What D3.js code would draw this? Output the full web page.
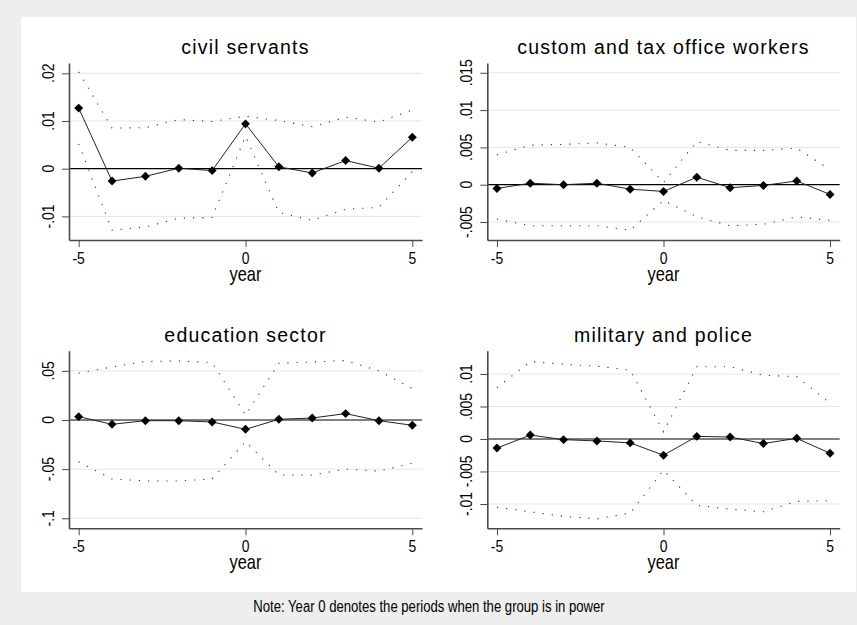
<!DOCTYPE html>
<html>
<head>
<meta charset="utf-8">
<script src="https://cdn.jsdelivr.net/npm/d3@7/dist/d3.min.js"></script>
<style>
  html, body { margin: 0; padding: 0; background: #eeeeee; }
  svg { display: block; }
</style>
</head>
<body>
<svg id="chart" width="857" height="625"></svg>
<script>
// Event-study estimates by sector, years relative to the period in power
const years = [-5, -4, -3, -2, -1, 0, 1, 2, 3, 4, 5];
const xTicks = [-5, 0, 5];

const civilEst   = [0.0127, -0.0026, -0.0016, 0.0001, -0.0004, 0.0094, 0.0004, -0.0009, 0.0017, 0.0001, 0.0066];
const civilUpper = [0.0203, 0.0085, 0.0086, 0.0103, 0.0099, 0.0110, 0.0101, 0.0088, 0.0108, 0.0098, 0.0123];
const civilLower = [0.0052, -0.0129, -0.0122, -0.0104, -0.0102, 0.0068, -0.0092, -0.0108, -0.0085, -0.0081, -0.0006];
const civilTicks = [-0.01, 0, 0.01, 0.02];
const civilTickLabels = ["-.01", "0", ".01", ".02"];

const customEst   = [-0.0005, 0.0002, 0.0000, 0.0002, -0.0006, -0.0009, 0.0010, -0.0004, -0.0001, 0.0005, -0.0013];
const customUpper = [0.0040, 0.0053, 0.0054, 0.0056, 0.0050, 0.0003, 0.0058, 0.0046, 0.0046, 0.0049, 0.0020];
const customLower = [-0.0046, -0.0055, -0.0055, -0.0055, -0.0061, -0.0021, -0.0043, -0.0055, -0.0053, -0.0043, -0.0048];
const customTicks = [-0.005, 0, 0.005, 0.01, 0.015];
const customTickLabels = ["-.005", "0", ".005", ".01", ".015"];

const eduEst   = [0.0034, -0.0044, -0.0007, -0.0007, -0.0020, -0.0095, 0.0007, 0.0020, 0.0065, -0.0007, -0.0054];
const eduUpper = [0.0476, 0.0540, 0.0595, 0.0600, 0.0585, 0.0051, 0.0578, 0.0590, 0.0605, 0.0500, 0.0320];
const eduLower = [-0.0425, -0.0600, -0.0620, -0.0620, -0.0600, -0.0220, -0.0560, -0.0560, -0.0500, -0.0520, -0.0440];
const eduTicks = [-0.1, -0.05, 0, 0.05];
const eduTickLabels = ["-.1", "-.05", "0", ".05"];

const milEst   = [-0.0014, 0.0006, -0.0001, -0.0003, -0.0006, -0.0025, 0.0004, 0.0003, -0.0007, 0.0001, -0.0022];
const milUpper = [0.0079, 0.0119, 0.0115, 0.0112, 0.0106, 0.0011, 0.0111, 0.0111, 0.0098, 0.0096, 0.0055];
const milLower = [-0.0105, -0.0112, -0.0119, -0.0123, -0.0114, -0.0048, -0.0102, -0.0108, -0.0112, -0.0096, -0.0095];
const milTicks = [-0.01, -0.005, 0, 0.005, 0.01];
const milTickLabels = ["-.01", "-.005", "0", ".005", ".01"];

const panelTitles = ["civil servants", "custom and tax office workers", "education sector", "military and police"];
const xLabel = "year";
const note = "Note: Year 0 denotes the periods when the group is in power";

// Panels in reading order, built from the arrays above
const panels = [
  { title: panelTitles[0], est: civilEst, upper: civilUpper, lower: civilLower, ticks: civilTicks, tickLabels: civilTickLabels, yDomain: [-0.01495, 0.02216], col: 0, row: 0 },
  { title: panelTitles[1], est: customEst, upper: customUpper, lower: customLower, ticks: customTicks, tickLabels: customTickLabels, yDomain: [-0.00741, 0.01631], col: 1, row: 0 },
  { title: panelTitles[2], est: eduEst, upper: eduUpper, lower: eduLower, ticks: eduTicks, tickLabels: eduTickLabels, yDomain: [-0.1102, 0.0705], col: 0, row: 1 },
  { title: panelTitles[3], est: milEst, upper: milUpper, lower: milLower, ticks: milTicks, tickLabels: milTickLabels, yDomain: [-0.01374, 0.01358], col: 1, row: 1 }
];

// Plot-region geometry
const cols = [{ left: 69, right: 422 }, { left: 487.3, right: 839.7 }];
const rows = [{ top: 63, bottom: 240 }, { top: 350.7, bottom: 528.3 }];
const xDomain = [-5.29, 5.29];

// Use a real narrow face when installed, otherwise squeeze the regular one
function fontInstalled(name) {
  const ctx = document.createElement("canvas").getContext("2d");
  const s = "abcdefghijklm year .01 -.005";
  ctx.font = "40px monospace";
  const a = ctx.measureText(s).width;
  ctx.font = `40px '${name}', monospace`;
  const b = ctx.measureText(s).width;
  return Math.abs(a - b) > 0.5;
}
const hasNarrow = fontInstalled("Liberation Sans Narrow");
const narrowFamily = hasNarrow ? "'Liberation Sans Narrow', 'Liberation Sans', Arial, sans-serif" : "'Liberation Sans', Arial, sans-serif";
const squeeze = hasNarrow ? 1 : 0.82;

const svg = d3.select("#chart");

svg.append("rect").attr("x", 0).attr("y", 0).attr("width", 857).attr("height", 625).attr("fill", "#eeeeee");
svg.append("rect").attr("x", 21).attr("y", 17).attr("width", 835).attr("height", 575).attr("fill", "#ffffff");

function narrowText(g, str, x, y, size, rotate) {
  return g.append("text")
    .attr("transform", `translate(${x},${y}) rotate(${rotate || 0}) scale(${squeeze},1)`)
    .attr("text-anchor", "middle")
    .attr("font-family", narrowFamily)
    .attr("font-size", size)
    .attr("fill", "#000")
    .text(str);
}

panels.forEach(p => {
  const c = cols[p.col], r = rows[p.row];
  const x = d3.scaleLinear().domain(xDomain).range([c.left, c.right]);
  const y = d3.scaleLinear().domain(p.yDomain).range([r.bottom, r.top]);
  const g = svg.append("g");

  // Horizontal grid at each labelled value
  g.selectAll("line.grid")
    .data(p.ticks.filter(t => t !== 0))
    .join("line")
    .attr("class", "grid")
    .attr("x1", c.left).attr("x2", c.right)
    .attr("y1", d => y(d)).attr("y2", d => y(d))
    .attr("stroke", "#e6e6e6").attr("stroke-width", 1);

  // Reference line at zero
  g.append("line")
    .attr("x1", c.left).attr("x2", c.right)
    .attr("y1", y(0)).attr("y2", y(0))
    .attr("stroke", "#000").attr("stroke-width", 1.2);

  // Confidence bounds (dotted)
  const line = d3.line().x((d, i) => x(years[i])).y(d => y(d));
  [p.upper, p.lower].forEach(band => {
    g.append("path")
      .attr("d", line(band))
      .attr("fill", "none")
      .attr("stroke", "#333")
      .attr("stroke-width", 1.1)
      .attr("stroke-dasharray", "1.2,8");
  });

  // Point estimates
  g.append("path")
    .attr("d", line(p.est))
    .attr("fill", "none")
    .attr("stroke", "#222")
    .attr("stroke-width", 1);

  const diamond = d3.symbol(d3.symbolSquare, 40);
  g.selectAll("path.marker")
    .data(p.est)
    .join("path")
    .attr("class", "marker")
    .attr("d", diamond)
    .attr("transform", (d, i) => `translate(${x(years[i])},${y(d)}) rotate(45)`)
    .attr("fill", "#000");

  // Axes
  const xAxis = g.append("g")
    .attr("transform", `translate(0,${r.bottom})`)
    .call(d3.axisBottom(x).tickValues(xTicks).tickSize(7).tickSizeOuter(0).tickFormat(d3.format("d")));
  const yAxis = g.append("g")
    .attr("transform", `translate(${c.left},0)`)
    .call(d3.axisLeft(y).tickValues(p.ticks).tickSize(7).tickSizeOuter(0).tickFormat((d, i) => p.tickLabels[i]));

  [xAxis, yAxis].forEach(ax => {
    ax.select(".domain").attr("stroke", "#4a4a4a").attr("stroke-width", 1.6);
    ax.selectAll(".tick line").attr("stroke", "#4a4a4a").attr("stroke-width", 1);
    ax.selectAll(".tick text").remove();
  });

  xTicks.forEach(t => narrowText(g, String(t), x(t), r.bottom + 24, 17, 0));
  p.ticks.forEach((t, i) => narrowText(g, p.tickLabels[i], c.left - 15, y(t), 17, -90));

  narrowText(g, xLabel, x(0), r.bottom + 41, 20, 0);

  g.append("text")
    .attr("x", (c.left + c.right) / 2)
    .attr("y", r.top - 9)
    .attr("text-anchor", "middle")
    .attr("font-family", "'Liberation Sans', Arial, sans-serif")
    .attr("font-size", 19.5)
    .attr("letter-spacing", 1.2)
    .attr("fill", "#000")
    .text(p.title);
});

narrowText(svg, note, 429, 612, 16, 0);
</script>
</body>
</html>
